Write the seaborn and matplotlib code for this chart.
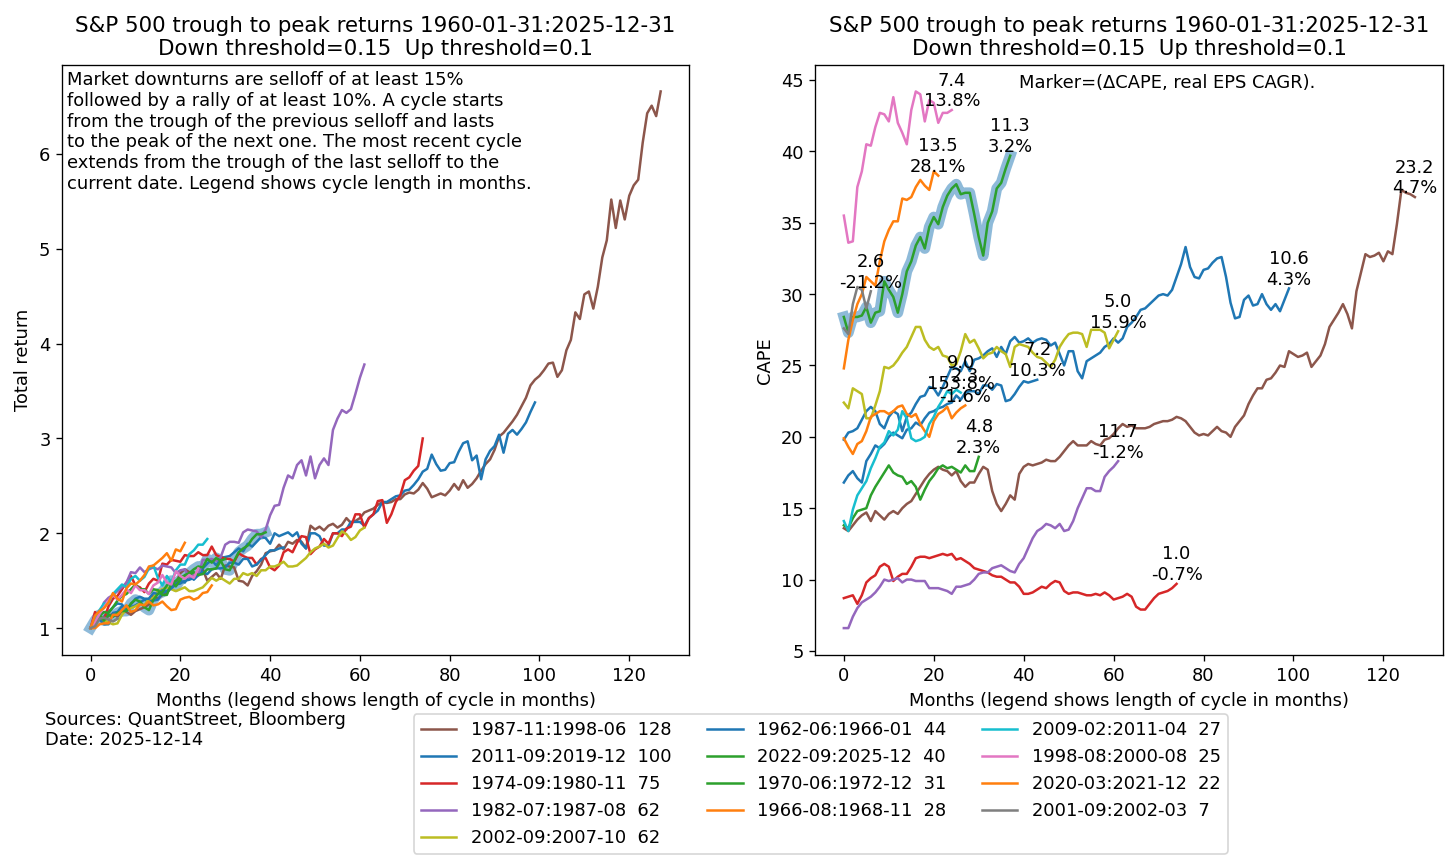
import matplotlib
matplotlib.use("Agg")
import matplotlib.pyplot as plt
from matplotlib.lines import Line2D
import seaborn as sns
import pandas as pd

plt.rcParams["font.size"] = 10.7

# cycles, longest first (this is also the legend order)
cycles = ["1987-11:1998-06", "2011-09:2019-12", "1974-09:1980-11", "1982-07:1987-08",
          "2002-09:2007-10", "1962-06:1966-01", "2022-09:2025-12", "1970-06:1972-12",
          "1966-08:1968-11", "2009-02:2011-04", "1998-08:2000-08", "2020-03:2021-12",
          "2001-09:2002-03"]
current = "2022-09:2025-12"

# real EPS CAGR (%) shown next to each CAPE line
eps_cagr = [4.7, 4.3, -0.7, -1.2, 15.9, 10.3, 3.2, 2.3, -1.6, 153.8, 13.8, 28.1, -21.2]

# total return, monthly, trough = 1
tr_1987 = [1.00, 1.08, 1.10, 1.07, 1.13, 1.15, 1.12, 1.18, 1.17, 1.14,
           1.18, 1.20, 1.22, 1.25, 1.34, 1.31, 1.35, 1.37, 1.44, 1.47,
           1.58, 1.62, 1.59, 1.55, 1.57, 1.62, 1.50, 1.54, 1.58, 1.52,
           1.66, 1.65, 1.64, 1.50, 1.49, 1.45, 1.55, 1.60, 1.67, 1.79,
           1.81, 1.82, 1.88, 1.83, 1.91, 1.89, 1.93, 1.91, 1.84, 2.08,
           2.04, 2.07, 2.03, 2.08, 2.10, 2.06, 2.09, 2.16, 2.11, 2.13,
           2.16, 2.22, 2.24, 2.26, 2.30, 2.33, 2.32, 2.33, 2.36, 2.36,
           2.41, 2.43, 2.42, 2.46, 2.53, 2.47, 2.38, 2.40, 2.42, 2.40,
           2.45, 2.52, 2.46, 2.56, 2.48, 2.52, 2.58, 2.66, 2.73, 2.78,
           2.88, 3.02, 3.06, 3.12, 3.18, 3.25, 3.34, 3.43, 3.56, 3.62,
           3.66, 3.72, 3.79, 3.80, 3.65, 3.72, 3.93, 4.04, 4.33, 4.26,
           4.52, 4.55, 4.37, 4.60, 4.91, 5.09, 5.52, 5.22, 5.51, 5.31,
           5.56, 5.67, 5.73, 6.12, 6.43, 6.51, 6.40, 6.66]
tr_2011 = [1.00, 1.11, 1.11, 1.12, 1.17, 1.22, 1.26, 1.25, 1.18, 1.22,
           1.24, 1.27, 1.30, 1.28, 1.29, 1.30, 1.37, 1.39, 1.44, 1.47,
           1.50, 1.48, 1.56, 1.51, 1.56, 1.63, 1.68, 1.72, 1.66, 1.74,
           1.75, 1.76, 1.80, 1.84, 1.81, 1.89, 1.86, 1.91, 1.96, 1.95,
           1.89, 2.00, 1.97, 1.99, 2.01, 1.97, 2.01, 1.89, 1.84, 2.00,
           2.00, 1.97, 1.87, 1.87, 2.00, 2.00, 2.04, 2.04, 2.12, 2.12,
           2.12, 2.08, 2.16, 2.20, 2.24, 2.33, 2.33, 2.36, 2.39, 2.40,
           2.45, 2.46, 2.51, 2.57, 2.65, 2.68, 2.83, 2.73, 2.66, 2.67,
           2.74, 2.75, 2.86, 2.95, 2.97, 2.77, 2.82, 2.57, 2.78, 2.87,
           2.92, 3.04, 2.85, 3.05, 3.09, 3.04, 3.10, 3.17, 3.28, 3.38]
tr_1974 = [1.00, 1.17, 1.11, 1.09, 1.23, 1.31, 1.34, 1.41, 1.48, 1.55,
           1.45, 1.43, 1.38, 1.47, 1.52, 1.50, 1.68, 1.67, 1.72, 1.71,
           1.70, 1.77, 1.76, 1.76, 1.80, 1.77, 1.77, 1.86, 1.77, 1.75,
           1.73, 1.73, 1.70, 1.79, 1.76, 1.74, 1.74, 1.67, 1.73, 1.74,
           1.64, 1.61, 1.66, 1.80, 1.83, 1.80, 1.90, 1.97, 1.96, 1.78,
           1.83, 1.86, 1.94, 1.89, 2.00, 2.00, 1.97, 2.05, 2.07, 2.20,
           2.20, 2.06, 2.16, 2.20, 2.34, 2.35, 2.11, 2.20, 2.33, 2.40,
           2.56, 2.59, 2.66, 2.71, 3.00]
tr_1982 = [1.00, 1.13, 1.14, 1.27, 1.32, 1.35, 1.39, 1.43, 1.48, 1.59,
           1.58, 1.64, 1.59, 1.62, 1.64, 1.62, 1.66, 1.65, 1.64, 1.58,
           1.61, 1.62, 1.53, 1.57, 1.55, 1.72, 1.72, 1.73, 1.71, 1.75,
           1.88, 1.91, 1.91, 1.90, 2.01, 2.04, 2.03, 2.02, 1.96, 2.04,
           2.19, 2.29, 2.30, 2.48, 2.61, 2.58, 2.72, 2.77, 2.61, 2.81,
           2.58, 2.72, 2.79, 2.72, 3.09, 3.21, 3.30, 3.27, 3.31, 3.47,
           3.64, 3.78]
tr_2002 = [1.00, 1.09, 1.15, 1.08, 1.06, 1.04, 1.05, 1.14, 1.20, 1.21,
           1.23, 1.26, 1.24, 1.31, 1.32, 1.39, 1.41, 1.43, 1.41, 1.39,
           1.41, 1.43, 1.39, 1.39, 1.41, 1.43, 1.48, 1.53, 1.50, 1.53,
           1.50, 1.47, 1.52, 1.52, 1.58, 1.56, 1.58, 1.55, 1.61, 1.61,
           1.65, 1.65, 1.67, 1.70, 1.65, 1.65, 1.66, 1.70, 1.74, 1.80,
           1.84, 1.86, 1.89, 1.85, 1.87, 1.95, 2.02, 1.99, 1.93, 1.96,
           2.03, 2.06]
tr_1962 = [1.00, 1.07, 1.09, 1.04, 1.04, 1.16, 1.17, 1.23, 1.20, 1.25,
           1.31, 1.33, 1.31, 1.31, 1.37, 1.36, 1.40, 1.38, 1.42, 1.46,
           1.47, 1.50, 1.51, 1.53, 1.56, 1.59, 1.57, 1.62, 1.63, 1.63,
           1.64, 1.69, 1.69, 1.67, 1.73, 1.73, 1.65, 1.67, 1.72, 1.77,
           1.82, 1.82, 1.84, 1.85]
tr_2022 = [1.00, 1.08, 1.14, 1.08, 1.14, 1.12, 1.16, 1.18, 1.18, 1.26,
           1.30, 1.28, 1.22, 1.19, 1.30, 1.36, 1.38, 1.45, 1.50, 1.44,
           1.51, 1.56, 1.58, 1.62, 1.65, 1.64, 1.73, 1.69, 1.74, 1.71,
           1.62, 1.61, 1.71, 1.80, 1.84, 1.87, 1.94, 1.99, 1.99, 2.01]
tr_1970 = [1.00, 1.08, 1.13, 1.17, 1.16, 1.22, 1.29, 1.34, 1.36, 1.41,
           1.46, 1.41, 1.41, 1.36, 1.41, 1.40, 1.35, 1.35, 1.47, 1.50,
           1.54, 1.55, 1.56, 1.59, 1.56, 1.57, 1.62, 1.62, 1.63, 1.71,
           1.73]
tr_1966 = [1.00, 1.00, 1.04, 1.05, 1.05, 1.14, 1.14, 1.19, 1.24, 1.17,
           1.19, 1.25, 1.24, 1.28, 1.24, 1.25, 1.28, 1.23, 1.19, 1.20,
           1.30, 1.32, 1.33, 1.30, 1.32, 1.37, 1.38, 1.45]
tr_2009 = [1.00, 1.09, 1.19, 1.26, 1.26, 1.36, 1.41, 1.46, 1.43, 1.52,
           1.55, 1.50, 1.54, 1.63, 1.66, 1.53, 1.45, 1.55, 1.48, 1.61,
           1.67, 1.67, 1.78, 1.82, 1.88, 1.88, 1.94]
tr_1998 = [1.00, 1.06, 1.15, 1.22, 1.29, 1.35, 1.30, 1.35, 1.41, 1.37,
           1.45, 1.40, 1.40, 1.36, 1.45, 1.48, 1.56, 1.48, 1.46, 1.60,
           1.55, 1.52, 1.56, 1.53, 1.63]
tr_2020 = [1.00, 1.13, 1.18, 1.21, 1.27, 1.37, 1.31, 1.28, 1.42, 1.47,
           1.46, 1.50, 1.56, 1.65, 1.66, 1.70, 1.74, 1.79, 1.71, 1.83,
           1.81, 1.90]
tr_2001 = [1.00, 1.02, 1.10, 1.11, 1.09, 1.07, 1.10]

# CAPE, monthly
cape_1987 = [13.6, 13.4, 13.8, 14.2, 14.5, 14.7, 14.1, 14.8, 14.5, 14.2,
             14.6, 14.8, 14.6, 15.0, 15.3, 15.5, 16.0, 16.5, 17.0, 17.4,
             17.7, 17.9, 17.7, 17.6, 17.3, 17.6, 16.9, 16.5, 16.8, 16.8,
             17.4, 17.9, 17.7, 16.2, 15.3, 14.8, 15.3, 15.9, 15.6, 17.4,
             17.9, 18.1, 18.0, 18.1, 18.2, 18.4, 18.3, 18.3, 18.6, 19.0,
             19.4, 19.7, 19.4, 19.4, 19.4, 19.7, 19.5, 19.4, 19.8, 19.9,
             20.2, 20.6, 20.9, 20.7, 20.8, 20.6, 20.6, 20.6, 20.7, 20.9,
             21.0, 21.1, 21.1, 21.2, 21.4, 21.3, 21.1, 20.7, 20.3, 20.1,
             20.2, 20.1, 20.4, 20.7, 20.4, 20.3, 20.0, 20.7, 21.1, 21.5,
             22.3, 22.9, 23.4, 23.4, 24.0, 24.1, 24.5, 25.0, 24.9, 26.0,
             25.8, 25.6, 25.7, 25.9, 24.9, 25.3, 25.7, 26.5, 27.7, 28.2,
             28.7, 29.3, 28.6, 27.6, 30.2, 31.5, 32.8, 32.6, 32.7, 32.9,
             32.3, 33.0, 32.8, 34.9, 37.3, 37.1, 37.0, 36.8]
cape_2011 = [19.8, 20.3, 20.4, 20.6, 21.2, 21.8, 22.1, 21.8, 20.9, 20.6,
             21.4, 21.8, 21.6, 20.4, 21.4, 21.7, 22.3, 22.8, 22.9, 23.5,
             23.4, 22.9, 23.5, 24.2, 24.9, 24.8, 24.6, 25.3, 24.6, 25.4,
             25.5, 25.7, 26.0, 26.2, 25.6, 26.3, 25.8, 26.7, 27.0, 26.6,
             26.7, 26.9, 26.6, 26.8, 26.9, 26.8, 26.4, 26.6, 25.8, 25.0,
             26.0, 26.0, 24.6, 24.1, 25.3, 25.5, 25.7, 25.9, 26.3, 26.5,
             26.9, 26.6, 26.9, 27.7, 28.0, 28.4, 28.9, 29.0, 29.3, 29.6,
             29.9, 30.0, 29.9, 30.3, 31.2, 32.1, 33.3, 31.9, 31.2, 31.1,
             31.7, 31.8, 32.2, 32.5, 32.6, 31.2, 29.4, 28.3, 28.4, 29.6,
             29.9, 29.2, 29.3, 30.0, 29.3, 28.9, 29.3, 28.8, 29.6, 30.4]
cape_1974 = [8.7, 8.8, 8.9, 8.3, 8.9, 9.8, 10.1, 10.3, 10.9, 11.1,
             10.9, 9.9, 10.2, 10.4, 10.4, 10.9, 11.5, 11.6, 11.6, 11.5,
             11.6, 11.7, 11.8, 11.7, 11.8, 11.4, 11.5, 11.3, 11.1, 10.8,
             10.7, 10.6, 10.5, 10.3, 10.2, 10.2, 10.0, 9.8, 9.8, 9.5,
             9.0, 9.0, 9.1, 9.3, 9.5, 9.4, 9.7, 9.9, 9.8, 9.2,
             9.0, 9.1, 9.1, 9.0, 8.9, 8.9, 9.0, 8.9, 9.1, 8.9,
             8.6, 8.7, 8.8, 9.0, 8.8, 8.1, 7.9, 7.9, 8.3, 8.7,
             9.0, 9.1, 9.2, 9.4, 9.7]
cape_1982 = [6.6, 6.6, 7.4, 8.0, 8.4, 8.6, 8.8, 9.1, 9.5, 10.0,
             9.9, 10.0, 10.1, 9.8, 10.0, 10.0, 9.9, 9.9, 9.9, 9.4,
             9.4, 9.4, 9.3, 9.2, 9.0, 9.5, 9.5, 9.6, 9.7, 10.0,
             10.4, 10.5, 10.5, 10.8, 10.9, 11.0, 10.8, 10.6, 10.5, 11.1,
             11.5, 12.2, 12.9, 13.4, 13.6, 13.9, 13.8, 13.6, 13.9, 13.4,
             13.5, 14.1, 15.0, 15.7, 16.4, 16.4, 16.2, 16.2, 17.2, 17.6,
             17.9, 18.3]
cape_2002 = [22.4, 22.0, 23.4, 23.2, 23.0, 21.3, 21.3, 22.2, 23.2, 24.9,
             24.8, 25.0, 25.4, 25.9, 26.3, 27.0, 27.7, 27.7, 26.8, 26.3,
             26.1, 26.3, 25.7, 25.6, 25.0, 25.1, 26.0, 27.2, 26.6, 26.8,
             26.2, 25.5, 25.8, 25.9, 26.3, 26.0, 25.8, 24.9, 26.3, 26.5,
             26.4, 26.3, 25.9, 25.6, 25.5, 25.2, 24.9, 25.4, 26.3, 26.8,
             27.2, 27.3, 27.3, 27.2, 26.3, 27.5, 27.5, 27.5, 27.3, 26.2,
             26.8, 27.4]
cape_1962 = [16.8, 17.3, 17.6, 17.1, 16.8, 18.3, 18.8, 19.4, 19.2, 19.5,
             20.0, 20.3, 20.1, 19.9, 20.5, 20.6, 21.0, 20.8, 21.3, 21.7,
             21.8, 22.0, 22.1, 22.3, 22.4, 22.9, 22.6, 23.1, 23.2, 23.2,
             23.0, 23.6, 23.6, 23.3, 23.7, 23.6, 22.5, 22.6, 23.0, 23.5,
             23.9, 23.8, 23.9, 24.0]
cape_2022 = [28.4, 27.3, 28.4, 28.4, 28.5, 29.1, 28.0, 28.7, 28.8, 30.9,
             30.3, 29.8, 28.7, 30.0, 31.6, 32.3, 33.4, 34.0, 33.2, 34.7,
             35.4, 34.9, 36.1, 36.9, 37.4, 37.7, 37.0, 37.1, 37.1, 35.6,
             34.0, 32.7, 35.0, 35.8, 37.4, 37.8, 38.8, 39.7]
cape_1970 = [13.8, 13.6, 14.3, 14.8, 14.9, 15.0, 15.9, 16.5, 17.0, 17.5,
             18.0, 17.5, 17.3, 17.2, 16.7, 16.9, 16.5, 15.6, 16.3, 16.9,
             17.3, 17.8, 18.0, 17.8, 17.9, 17.7, 17.5, 18.0, 17.6, 17.6,
             18.6]
cape_1966 = [19.9, 19.3, 18.8, 19.5, 19.7, 20.4, 21.4, 21.6, 21.8, 21.8,
             21.6, 21.8, 22.1, 22.2, 21.6, 21.4, 21.6, 20.9, 20.4, 20.0,
             21.1, 21.6, 21.8, 22.1, 21.3, 21.7, 22.0, 22.2]
cape_2009 = [14.1, 13.4, 14.9, 15.9, 16.4, 16.9, 17.8, 18.5, 19.3, 19.6,
             20.4, 20.1, 20.5, 21.8, 21.3, 19.9, 19.7, 19.8, 20.0, 20.9,
             21.4, 22.1, 22.6, 23.2, 23.0, 23.3, 23.1]
cape_1998 = [35.5, 33.6, 33.7, 37.5, 38.6, 40.5, 40.4, 41.7, 42.7, 42.6,
             42.1, 43.8, 42.0, 41.3, 40.5, 42.9, 44.2, 44.0, 42.1, 43.6,
             43.4, 42.0, 42.7, 42.7, 42.9]
cape_2020 = [24.8, 26.8, 28.2, 29.3, 30.0, 31.2, 30.9, 30.6, 32.3, 33.7,
             34.5, 35.1, 35.1, 36.7, 36.6, 36.8, 37.5, 38.0, 37.6, 37.3,
             38.6, 38.3]
cape_2001 = [27.6, 27.2, 29.3, 30.5, 30.3, 29.0, 30.2]

tr_lists = [tr_1987, tr_2011, tr_1974, tr_1982, tr_2002, tr_1962, tr_2022,
            tr_1970, tr_1966, tr_2009, tr_1998, tr_2020, tr_2001]
cape_lists = [cape_1987, cape_2011, cape_1974, cape_1982, cape_2002, cape_1962, cape_2022,
              cape_1970, cape_1966, cape_2009, cape_1998, cape_2020, cape_2001]

# long tables for seaborn
rows_tr, rows_cape = [], []
for name, tr, cape in zip(cycles, tr_lists, cape_lists):
    rows_tr += [(name, m, v) for m, v in enumerate(tr)]
    rows_cape += [(name, m, v) for m, v in enumerate(cape)]
df_tr = pd.DataFrame(rows_tr, columns=["cycle", "month", "value"])
df_cape = pd.DataFrame(rows_cape, columns=["cycle", "month", "value"])

# colours follow chronological order through tab10
tab = sns.color_palette("tab10")
chrono = sorted(cycles)
palette = {c: tab[chrono.index(c) % 10] for c in cycles}

fig = plt.figure(figsize=(1456.4 / 120, 862.4 / 120), dpi=120)
ax1 = fig.add_axes([0.0426, 0.2401, 0.4306, 0.6845])
ax2 = fig.add_axes([0.5598, 0.2401, 0.4313, 0.6845])

title = "S&P 500 trough to peak returns 1960-01-31:2025-12-31\nDown threshold=0.15  Up threshold=0.1"

for ax, df in [(ax1, df_tr), (ax2, df_cape)]:
    sub = df[df["cycle"] == current]
    sns.lineplot(data=sub, x="month", y="value", ax=ax, color="tab:blue", alpha=0.5,
                 linewidth=6.5, estimator=None, zorder=1, legend=False)
    sns.lineplot(data=df, x="month", y="value", hue="cycle", hue_order=cycles,
                 palette=palette, ax=ax, estimator=None, linewidth=1.5, legend=False)
    ax.set_title(title)
    ax.set_xlabel("Months (legend shows length of cycle in months)")
    ax.set_xticks([0, 20, 40, 60, 80, 100, 120])

ax1.set_ylabel("Total return")
ax1.set_yticks([1, 2, 3, 4, 5, 6])
ax2.set_ylabel("CAPE")
ax2.set_yticks([5, 10, 15, 20, 25, 30, 35, 40, 45])

ax1.text(0.008, 0.99,
         "Market downturns are selloff of at least 15%\n"
         "followed by a rally of at least 10%. A cycle starts\n"
         "from the trough of the previous selloff and lasts\n"
         "to the peak of the next one. The most recent cycle\n"
         "extends from the trough of the last selloff to the\n"
         "current date. Legend shows cycle length in months.",
         transform=ax1.transAxes, ha="left", va="top")

for cape, eps in zip(cape_lists, eps_cagr):
    ax2.text(len(cape) - 1, cape[-1], f"{cape[-1] - cape[0]:.1f}\n{eps:.1f}%",
             ha="center", va="bottom")
ax2.text(0.56, 0.985, "Marker=(ΔCAPE, real EPS CAGR).", transform=ax2.transAxes,
         ha="center", va="top")

fig.text(0.031, 0.176, "Sources: QuantStreet, Bloomberg\nDate: 2025-12-14", ha="left", va="top")

handles = [Line2D([], [], color=palette[c], linewidth=1.5) for c in cycles]
labels = [f"{c}  {len(tr)}" for c, tr in zip(cycles, tr_lists)]
fig.legend(handles, labels, ncol=3, loc="upper center", bbox_to_anchor=(0.5635, 0.182))

fig.savefig("out.png", dpi=120)
